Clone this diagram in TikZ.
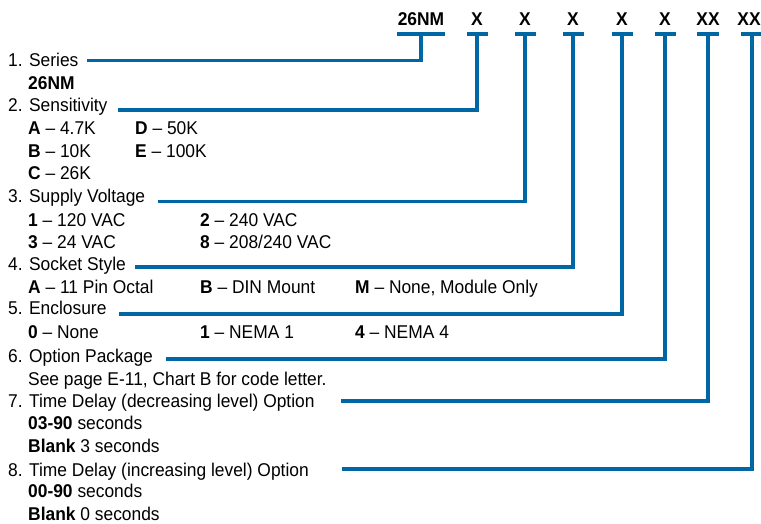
\documentclass[tikz,border=0pt]{standalone}
\usepackage{fontspec}
\setmainfont[FakeStretch=0.94]{Liberation Sans}
\definecolor{LeadBlue}{HTML}{0066A4}

\begin{document}
\begin{tikzpicture}[x=1pt,y=-1pt,font=\fontsize{18.5}{22}\selectfont,
    txt/.style={anchor=base west,inner sep=0pt},
    code/.style={anchor=base,inner sep=0pt,font=\fontsize{18.5}{22}\selectfont\bfseries},
    lead/.style={LeadBlue,line width=3.8pt}]
    \useasboundingbox (0,0) rectangle (761,524);
    % code letters with their T bars, headings and leads
    \foreach \i/\x/\cx/\code/\w/\lx/\ly/\heading/\hy in {
      1/421/421/26NM/24/87/60.5/{1. Series}/67,
      2/477/477/X/10.5/118/110/{2. Sensitivity}/112,
      3/525/525/X/10.5/158/201.5/{3. Supply Voltage}/203,
      4/573/573/X/10.5/135/267/{4. Socket Style}/270,
      5/622/622/X/10.5/119/314/{5. Enclosure}/314,
      6/665/665/X/10.5/166/359/{6. Option Package}/362,
      7/708/708/XX/11/341/401/{7. Time Delay (decreasing level) Option}/407,
      8/752/749/XX/11/342/469/{8. Time Delay (increasing level) Option}/476}{%
      \node[code] (c\i) at (\cx,26) {\code};
      \coordinate (t\i) at (\x,34);
      \node[txt] (h\i) at (8,\hy) {\heading};
      \coordinate (l\i) at (\lx,\ly);
      \draw[lead] ([xshift=-\w pt]t\i) -- ([xshift=\w pt]t\i);
      \draw[lead] (l\i) -| (t\i);
    }
    % choices
    \foreach \n/\x/\y/\key/\val in {
      s2a/28/135/A/4.7K, s2d/135/135/D/50K,
      s2b/28/158/B/10K, s2e/135/158/E/100K,
      s2c/28/179/C/26K,
      s3a/28/226/1/120 VAC, s3b/200/226/2/240 VAC,
      s3c/28/248/3/24 VAC, s3d/200/248/8/{208/240 VAC},
      s4a/28/293/A/11 Pin Octal, s4b/200/293/B/DIN Mount,
      s4c/355/293/M/{None, Module Only},
      s5a/28/338/0/None, s5b/200/338/1/NEMA 1, s5c/355/338/4/NEMA 4}{%
      \node[txt] (\n) at (\x,\y) {\textbf{\key} \textendash{} \val};
    }
    \node[txt] (s1) at (28,90) {\textbf{26NM}};
    \node[txt] (s6) at (28,385) {See page E-11, Chart B for code letter.};
    \node[txt] (s7a) at (28,429) {\textbf{03-90} seconds};
    \node[txt] (s7b) at (28,452) {\textbf{Blank} 3 seconds};
    \node[txt] (s8a) at (28,497) {\textbf{00-90} seconds};
    \node[txt] (s8b) at (28,520) {\textbf{Blank} 0 seconds};
\end{tikzpicture}
\end{document}
